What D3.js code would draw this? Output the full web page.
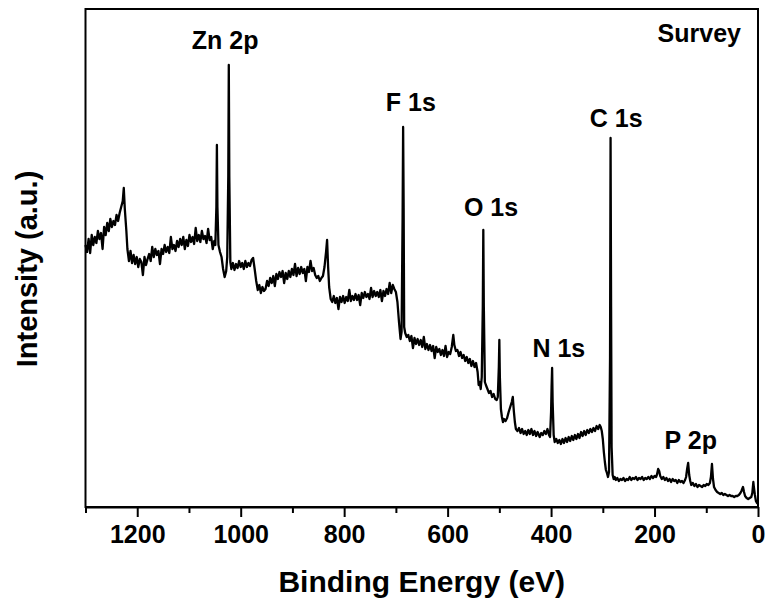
<!DOCTYPE html>
<html>
<head>
<meta charset="utf-8">
<script src="https://cdn.jsdelivr.net/npm/d3@7/dist/d3.min.js"></script>
<style>
  html, body { margin: 0; padding: 0; background: #fff; }
  svg { display: block; }
  text { font-family: "Liberation Sans", Arial, Helvetica, sans-serif; font-weight: bold; fill: #000; }
</style>
</head>
<body>
<svg id="chart" width="769" height="606"></svg>
<script>
// ---- data ----
const energy = [
1300,1297,1294,1291,1288,1285,1282,1279,1276,1273,1270,1267,1264,1261,1258,1255,1252,1249,1246,1243,1240,1237,1234,1231,1228,1226,1224,1221,1219,1216,1213,1210,1207,1204,1201,1198,1195,1192,1189,1186,1183,1180,1177,1174,1171,1168,1165,1162,1159,1156,1153,1150,1147,1144,1141,1138,1135,1132,1129,1126,1123,1120,1117,1114,1111,1108,1105,1102,1099,1096,1093,1090,1087,1084,1081,1078,1075,1072,1069,1066,1063,1060,1057,1054,1051,1049,1047,1046,1045,1043,1040,1037,1034,1031,1028,1026,1024,1023,1022,1020,1018,1015,1012,1009,1006,1003,1000,997,994,991,988,985,982,979,976,973,970,967,964,961,958,955,952,949,946,943,940,937,934,931,928,925,922,919,916,913,910,907,904,901,898,895,892,889,886,883,880,877,874,871,868,865,862,859,856,853,850,847,844,841,838,835,833,831,829,826,823,820,817,814,811,808,805,802,799,796,793,790,787,784,781,778,775,772,769,766,763,760,757,754,751,748,745,742,739,736,733,730,727,724,721,718,715,712,709,706,703,700,697,694,691,689,687,686,685,684,682,679,676,673,670,667,664,661,658,655,652,649,646,643,640,637,634,631,628,625,622,619,616,613,610,607,604,601,598,595,592,589,587,584,581,578,575,572,569,566,563,560,557,554,551,548,545,542,540,538,536,534,532,531,530,528,526,523,520,517,514,511,508,505,503,501,500,499,497,495,493,491,488,485,482,479,476,474,472,470,468,465,462,459,456,453,450,447,444,441,438,435,432,429,426,422,419,416,413,410,407,404,402,400,399,398,397,395,393,390,387,384,381,378,375,372,369,366,363,360,357,354,351,348,345,342,339,336,333,330,327,324,321,318,315,312,309,306,304,302,300,298,296,294,292,290,288,286,285,284,283,281,279,277,275,272,269,266,263,260,257,254,251,248,245,242,239,236,233,230,227,224,221,218,215,212,209,206,203,200,197,195,193,191,189,186,183,180,177,174,171,168,165,162,159,156,153,150,147,144,141,139,137,135,133,131,129,126,123,120,117,114,111,108,105,102,99,96,93,91,89,87,85,82,79,76,73,70,67,64,61,58,55,52,49,46,43,40,37,34,32,29,27,25,22,19,16,13,11,9,8,6,4,2,0
];
const counts = [
262,255,268,254,272,262,270,264,276,268,274,258,280,272,284,276,288,280,286,282,292,286,294,300,306,319,298,276,258,246,256,244,252,243,250,240,248,245,232,250,242,248,253,246,260,250,258,252,256,243,258,253,262,255,260,254,270,258,262,256,266,260,268,262,270,258,267,261,272,265,270,263,279,266,272,265,276,268,271,264,278,267,270,258,266,262,300,362,300,262,255,250,238,230,236,250,330,442,330,245,238,244,237,243,239,246,240,244,238,246,240,244,241,247,249,238,226,217,222,214,220,216,218,226,221,229,224,231,221,233,228,235,230,236,224,234,228,236,230,238,232,243,231,239,233,240,234,238,226,240,235,246,236,239,232,229,231,226,229,231,240,255,267,240,220,208,205,211,204,209,198,210,205,211,204,210,206,217,206,211,207,213,207,212,202,214,209,215,210,213,208,219,210,216,211,215,210,217,206,216,211,218,213,224,214,222,218,215,205,185,168,175,290,380,300,180,174,170,172,166,171,159,169,163,168,162,167,160,170,158,163,157,162,156,161,149,160,155,158,152,157,151,161,150,155,153,160,172,162,156,157,151,155,149,152,146,150,144,148,141,146,140,144,135,122,125,118,130,200,277,200,125,122,118,114,116,110,113,108,107,110,140,167,130,98,90,85,88,86,89,95,100,105,110,96,85,78,76,79,74,78,73,76,72,77,73,78,72,76,71,75,70,74,72,76,73,78,72,70,95,120,139,105,72,65,68,64,67,63,68,64,69,65,70,66,71,67,72,68,73,69,75,71,76,72,77,74,78,75,79,76,81,78,82,80,76,68,55,45,37,34,30,35,150,369,200,60,32,28,30,27,29,26,28,27,29,26,28,27,30,27,29,28,30,27,29,28,30,27,29,28,30,28,31,29,31,30,33,38,36,31,28,30,27,29,26,28,25,28,26,27,24,27,25,26,24,27,30,38,44,32,26,22,24,21,23,20,22,21,20,22,21,23,22,24,30,43,28,20,17,15,14,13,14,12,13,12,11,12,11,11,10,11,11,12,14,16,20,15,11,9,8,9,10,14,25,20,12,6,4,3
];
const xTicksMajor = [1200, 1000, 800, 600, 400, 200, 0];
const xTicksMinor = [1300, 1100, 900, 700, 500, 300, 100];
const peakNames = ["Zn 2p", "F 1s", "O 1s", "N 1s", "C 1s", "P 2p"];
const peakLabelEnergy = [1030, 671, 516, 385, 274, 130];
const peakLabelCount = [458, 396, 291, 150, 380, 58];
const cornerLabel = "Survey";
const xTitle = "Binding Energy (eV)";
const yTitle = "Intensity (a.u.)";

// ---- layout ----
const svg = d3.select("#chart");
const mLeft = 85.5, mRight = 758, mTop = 9, mBottom = 507;
svg.append("rect").attr("width", 769).attr("height", 606).attr("fill", "#fff");

const x = d3.scaleLinear().domain([1300, 0]).range([mLeft, mRight]);
const y = d3.scaleLinear().domain([0, 498]).range([mBottom, mTop]);

const n = Math.min(energy.length, counts.length);
const data = d3.range(n).map(i => ({ e: energy[i], c: counts[i] }));

// spectrum
svg.append("path")
  .datum(data)
  .attr("fill", "none")
  .attr("stroke", "#000")
  .attr("stroke-width", 2.3)
  .attr("stroke-linejoin", "round")
  .attr("d", d3.line().x(d => x(d.e)).y(d => y(d.c)));

// frame
svg.append("rect")
  .attr("x", mLeft).attr("y", mTop)
  .attr("width", mRight - mLeft).attr("height", mBottom - mTop)
  .attr("fill", "none").attr("stroke", "#000").attr("stroke-width", 2);

// x axis: major ticks with labels
const axMajor = d3.axisBottom(x).tickValues(xTicksMajor).tickSize(10).tickSizeOuter(0).tickPadding(8).tickFormat(d3.format("d"));
const gMaj = svg.append("g").attr("transform", `translate(0,${mBottom})`).call(axMajor);
gMaj.select(".domain").attr("stroke-width", 2);
gMaj.selectAll(".tick line").attr("stroke-width", 2);
gMaj.selectAll(".tick text").attr("font-size", 25).attr("font-family", null).attr("dy", "0.72em");

const axMinor = d3.axisBottom(x).tickValues(xTicksMinor).tickSize(6).tickSizeOuter(0).tickFormat("");
const gMin = svg.append("g").attr("transform", `translate(0,${mBottom})`).call(axMinor);
gMin.select(".domain").remove();
gMin.selectAll(".tick line").attr("stroke-width", 2);

// axis titles
svg.append("text").attr("x", (mLeft + mRight) / 2).attr("y", 592)
  .attr("text-anchor", "middle").attr("font-size", 30).text(xTitle);
svg.append("text").attr("transform", "translate(37,269) rotate(-90)")
  .attr("text-anchor", "middle").attr("font-size", 29).text(yTitle);

// peak labels
svg.selectAll(".peak").data(peakNames).enter().append("text")
  .attr("class", "peak")
  .attr("x", (d, i) => x(peakLabelEnergy[i]))
  .attr("y", (d, i) => y(peakLabelCount[i]))
  .attr("text-anchor", "middle").attr("font-size", 25).text(d => d);

svg.append("text").attr("x", 741).attr("y", 42)
  .attr("text-anchor", "end").attr("font-size", 25).text(cornerLabel);
</script>
</body>
</html>
